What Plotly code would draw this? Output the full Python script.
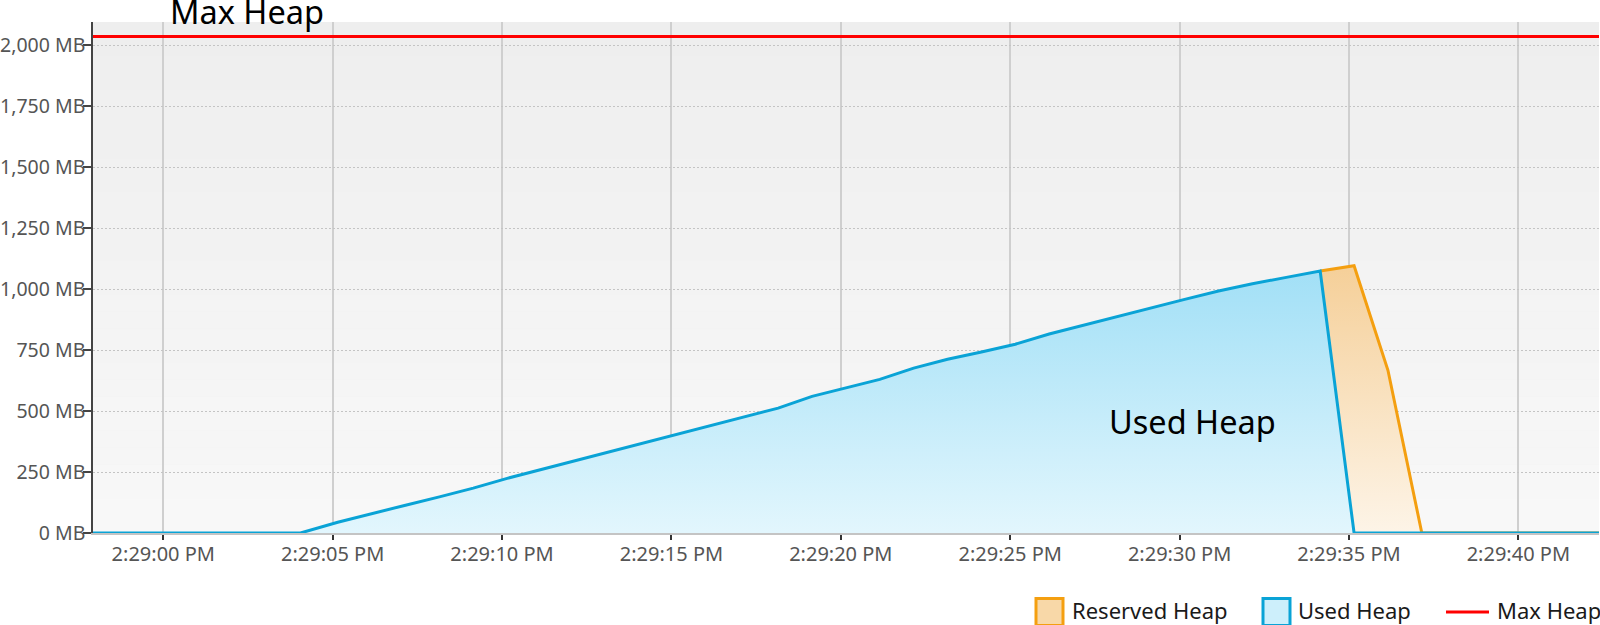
import plotly.graph_objects as go

DAY = "2023-06-14 "

# sample times (about one sample per second)
sample_times = [
    "14:28:56.15", "14:28:57.15", "14:28:58.15", "14:28:59.15", "14:29:00.15",
    "14:29:01.15", "14:29:02.15", "14:29:03.15", "14:29:04.05", "14:29:05.15",
    "14:29:06.15", "14:29:07.15", "14:29:08.15", "14:29:09.15", "14:29:10.15",
    "14:29:11.15", "14:29:12.15", "14:29:13.15", "14:29:14.15", "14:29:15.15",
    "14:29:16.15", "14:29:17.15", "14:29:18.15", "14:29:19.15", "14:29:20.15",
    "14:29:21.15", "14:29:22.15", "14:29:23.15", "14:29:24.15", "14:29:25.15",
    "14:29:26.15", "14:29:27.15", "14:29:28.15", "14:29:29.15", "14:29:30.15",
    "14:29:31.15", "14:29:32.15", "14:29:33.15", "14:29:34.15", "14:29:35.15",
    "14:29:36.15", "14:29:37.15", "14:29:38.15", "14:29:39.15", "14:29:40.15",
    "14:29:41.15", "14:29:42.15", "14:29:43.15",
]

# Used heap (MB)
used_heap = [
    0, 0, 0, 0, 0, 0, 0, 0, 0, 44,
    80, 114, 148, 184, 224, 260, 294, 330, 366, 404,
    440, 474, 512, 560, 594, 630, 676, 712, 742, 774,
    816, 852, 888, 922, 958, 992, 1022, 1048, 1074, 0,
    0, 0, 0, 0, 0, 0, 0, 0,
]

# Reserved heap (MB), visible where it exceeds the used heap
reserved_times = [
    "14:29:34.15", "14:29:35.15", "14:29:36.15", "14:29:37.15", "14:29:38.15",
    "14:29:39.15", "14:29:40.15", "14:29:41.15", "14:29:42.15", "14:29:43.15",
]
reserved_heap = [1074, 1096, 667, 0, 0, 0, 0, 0, 0, 0]

max_heap_times = ["14:28:56.15", "14:29:43.15"]
max_heap = [2036, 2036]

y_ticks = [0, 250, 500, 750, 1000, 1250, 1500, 1750, 2000]
y_tick_text = ["0 MB", "250 MB", "500 MB", "750 MB", "1,000 MB", "1,250 MB",
               "1,500 MB", "1,750 MB", "2,000 MB"]

series_names = ["Reserved Heap", "Used Heap", "Max Heap"]

FONT = "Noto Sans"
BLUE = "#0aa3d6"
ORANGE = "#f49f10"
RED = "#ff0000"

W, H = 1600, 625
ML, MR, MT, MB = 93, 1, 22, 92
PW, PH = W - ML - MR, H - MT - MB


def pxx(px):
    return (px - ML) / PW


def pxy(py):
    return (H - MB - py) / PH


fig = go.Figure()

fig.add_trace(go.Scatter(
    x=[DAY + t for t in reserved_times], y=reserved_heap,
    mode="lines", name=series_names[0], showlegend=False,
    line=dict(color=ORANGE, width=3),
    fill="tozeroy",
    fillgradient=dict(type="vertical", start=0, stop=1100,
                      colorscale=[[0, "#fdf4e7"], [1, "#f5cf98"]]),
    hoverinfo="skip",
))

fig.add_trace(go.Scatter(
    x=[DAY + t for t in sample_times], y=used_heap,
    mode="lines", name=series_names[1], showlegend=False,
    line=dict(color=BLUE, width=3),
    fill="tozeroy",
    fillgradient=dict(type="vertical", start=0, stop=1100,
                      colorscale=[[0, "#e2f6fd"], [1, "#a0dff6"]]),
    hoverinfo="skip",
))

fig.add_trace(go.Scatter(
    x=[DAY + t for t in max_heap_times], y=max_heap,
    mode="lines", name=series_names[2], showlegend=False,
    line=dict(color=RED, width=3),
    hoverinfo="skip",
))

# subtle vertical background gradient of plot area
n_bands = 30
top_c, bot_c = 238, 248
for i in range(n_bands):
    f = (i + 0.5) / n_bands
    v = round(bot_c + (top_c - bot_c) * f)
    fig.add_shape(type="rect", xref="paper", yref="paper",
                  x0=0, x1=1, y0=i / n_bands, y1=(i + 1) / n_bands,
                  fillcolor=f"rgb({v},{v},{v})", line=dict(width=0),
                  layer="below")

# in-chart labels
fig.add_annotation(x=DAY + "14:29:02.46", y=pxy(12), xref="x", yref="paper",
                   text="Max Heap", showarrow=False,
                   font=dict(family=FONT, size=32.5, color="#000"),
                   xanchor="center", yanchor="middle")
fig.add_annotation(x=DAY + "14:29:30.39", y=458, xref="x", yref="y",
                   text="Used Heap", showarrow=False,
                   font=dict(family=FONT, size=32.5, color="#000"),
                   xanchor="center", yanchor="middle")

# legend (bottom right)
LEG_Y = 609.5
fig.add_shape(type="rect", xref="paper", yref="paper",
              x0=pxx(1036), x1=pxx(1063), y0=pxy(625.5), y1=pxy(598.5),
              fillcolor="#f8d8a8", line=dict(color=ORANGE, width=3))
fig.add_shape(type="rect", xref="paper", yref="paper",
              x0=pxx(1263), x1=pxx(1290), y0=pxy(625.5), y1=pxy(598.5),
              fillcolor="#cdeffb", line=dict(color=BLUE, width=3))
fig.add_shape(type="line", xref="paper", yref="paper",
              x0=pxx(1446), x1=pxx(1489), y0=pxy(612), y1=pxy(612),
              line=dict(color=RED, width=3))
for name, left in zip(series_names, [1069.5, 1295.5, 1495]):
    fig.add_annotation(x=pxx(left), y=pxy(LEG_Y), xref="paper", yref="paper",
                       text=name, showarrow=False,
                       font=dict(family=FONT, size=22, color="#1a1a1a"),
                       xanchor="left", yanchor="middle")

fig.update_layout(
    width=W, height=H,
    margin=dict(l=ML, r=MR, t=MT, b=MB),
    paper_bgcolor="white",
    plot_bgcolor="#f3f3f3",
    font=dict(family=FONT, size=20, color="#555"),
    showlegend=False,
    xaxis=dict(
        type="date",
        range=[DAY + "14:28:57.925", DAY + "14:29:42.38"],
        tick0=DAY + "14:29:00", dtick=5000,
        tickformat="%-I:%M:%S %p",
        showgrid=True, gridcolor="#cfcfcf", gridwidth=1.6,
        showline=True, linecolor="#c4c4c4", linewidth=1.5,
        ticks="outside", ticklen=5, tickcolor="#333", tickwidth=1.5,
        ticklabelstandoff=-3,
        zeroline=False, automargin=False,
        tickfont=dict(family=FONT, size=20, color="#555"),
    ),
    yaxis=dict(
        range=[0, 2095],
        tickmode="array", tickvals=y_ticks, ticktext=y_tick_text,
        showgrid=True, gridcolor="#c4c4c4", gridwidth=1, griddash="2px,2px",
        showline=True, linecolor="#444", linewidth=1.5,
        ticks="outside", ticklen=8, tickcolor="#444", tickwidth=1.5,
        ticklabelstandoff=-6,
        zeroline=False, automargin=False,
        tickfont=dict(family=FONT, size=19.5, color="#555"),
    ),
)

fig.write_html(
    "out.html",
    config={"displayModeBar": False},
    post_script="document.body.style.margin='0px';"
                "document.body.style.overflow='hidden';",
)
